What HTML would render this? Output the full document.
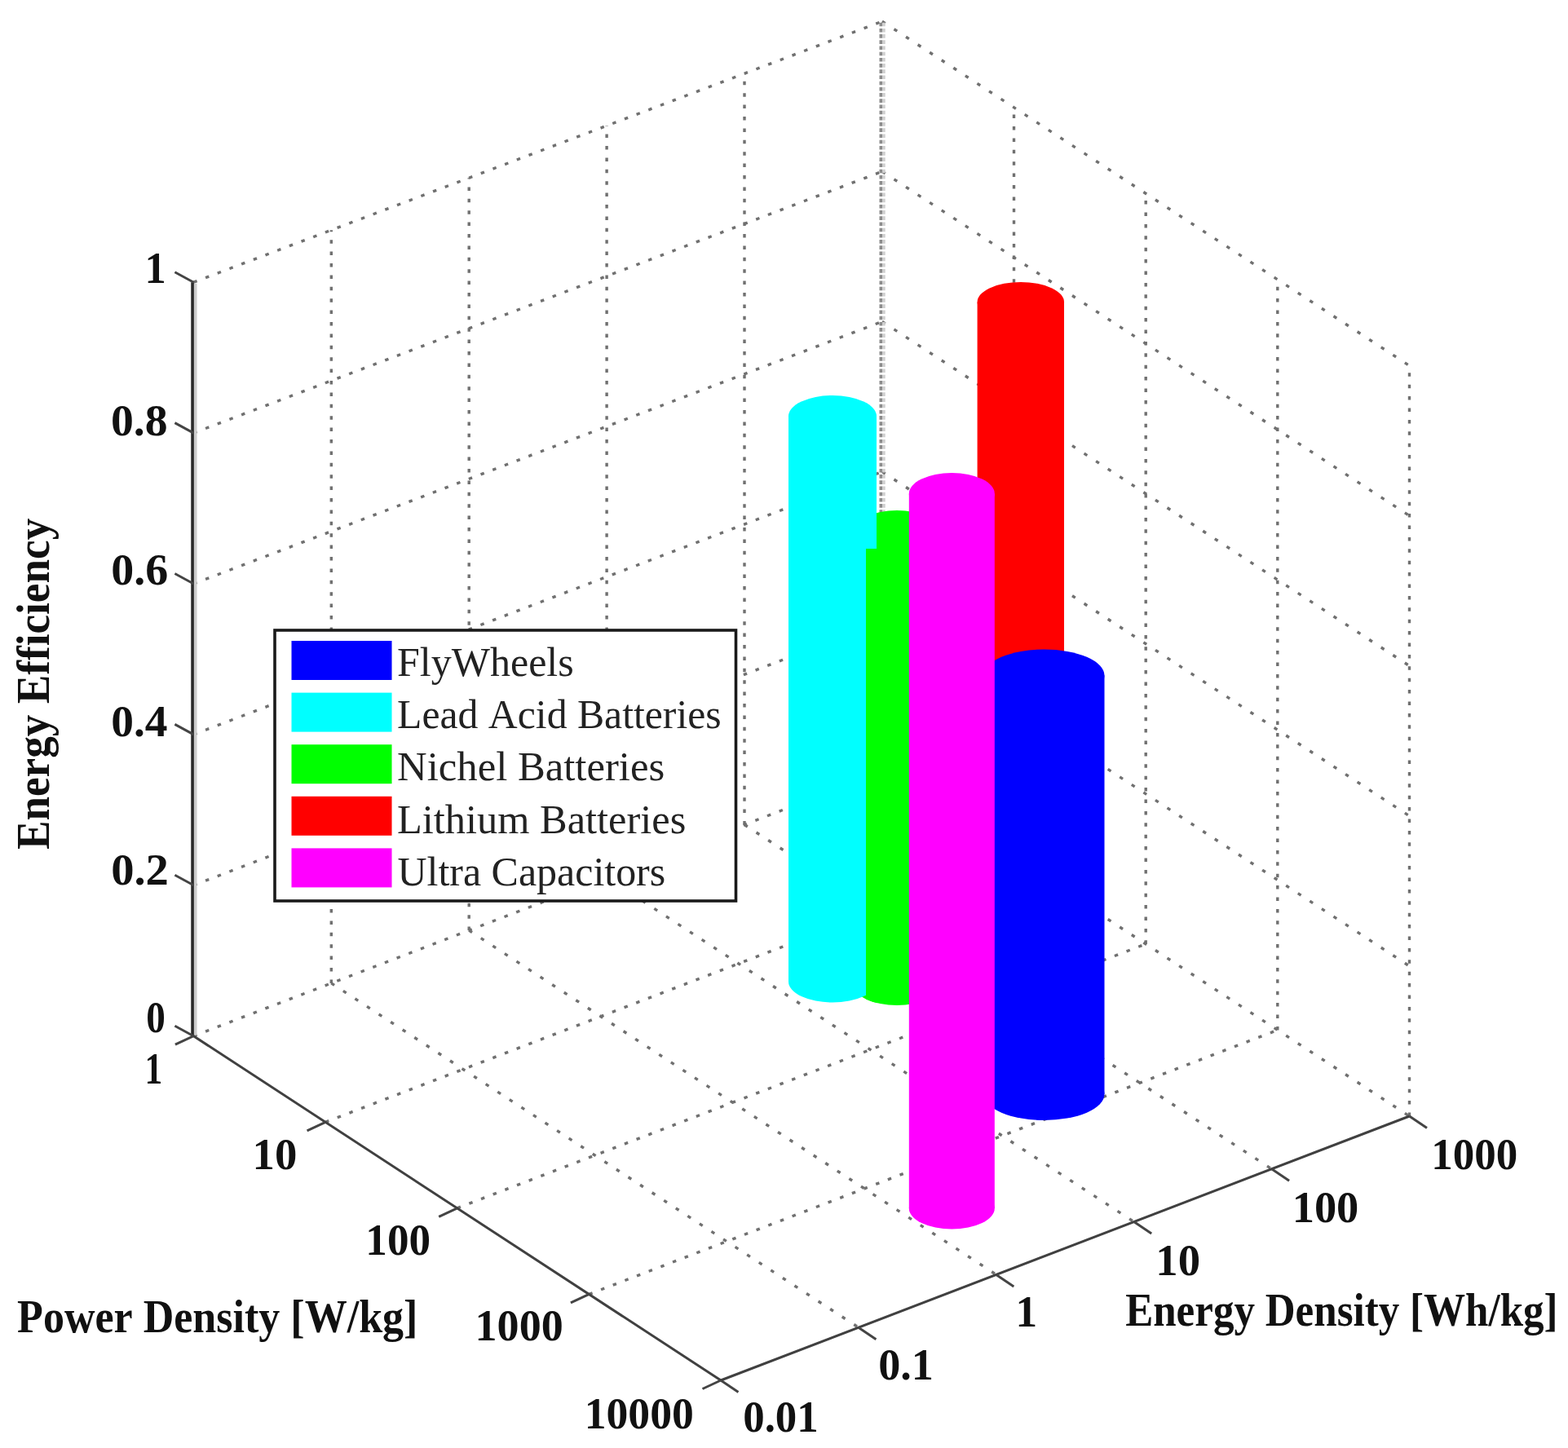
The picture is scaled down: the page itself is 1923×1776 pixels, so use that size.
<!DOCTYPE html><html><head><meta charset="utf-8"><title>Energy storage comparison</title><style>
html,body{margin:0;padding:0;background:#fff;overflow:hidden}
svg{display:block}
text{font-family:"Liberation Serif",serif;fill:#111;font-kerning:none;font-variant-ligatures:none}
.lg text{fill:#222}
line{stroke-linecap:butt}
.gh,.gv,.gd{stroke:#707070;stroke-width:3.4}
.gh{stroke-dasharray:4.5 11.2}
.gd{stroke-dasharray:4.5 12.9}
.gv{stroke-dasharray:4.5 9.9}
.bk1{stroke:#8c8c8c;stroke-width:3.6;stroke-dasharray:4.6 2.6}
.bk2{stroke:#cfcfcf;stroke-width:3.6;stroke-dasharray:4.6 2.6}
.zax{stroke:#2a2a2a;stroke-width:3.7}
.zax2{stroke:#cccccc;stroke-width:3.6}
.ax{stroke:#404040;stroke-width:3}
.tk{stroke:#444;stroke-width:3}
</style></head><body><svg width="1923" height="1776" viewBox="0 0 1923 1776">
<rect width="100%" height="100%" fill="#fff"/>
<g><line class="gh" x1="237.4" y1="1270.7" x2="1081.9" y2="946.7"/><line class="gh" x1="237.4" y1="1085.8" x2="1081.9" y2="762.6"/><line class="gh" x1="237.4" y1="900.9" x2="1081.9" y2="578.5"/><line class="gh" x1="237.4" y1="716.0" x2="1081.9" y2="394.4"/><line class="gh" x1="237.4" y1="531.1" x2="1081.9" y2="210.3"/><line class="gh" x1="237.4" y1="346.2" x2="1081.9" y2="26.2"/><line class="gv" x1="406.3" y1="1205.9" x2="406.3" y2="282.2"/><line class="gv" x1="575.2" y1="1141.1" x2="575.2" y2="218.2"/><line class="gv" x1="744.1" y1="1076.3" x2="744.1" y2="154.2"/><line class="gv" x1="913.0" y1="1011.5" x2="913.0" y2="90.2"/><line class="gd" x1="1081.9" y1="946.7" x2="1728.5" y2="1369.0"/><line class="gd" x1="1081.9" y1="762.6" x2="1728.5" y2="1184.9"/><line class="gd" x1="1081.9" y1="578.5" x2="1728.5" y2="1000.8"/><line class="gd" x1="1081.9" y1="394.4" x2="1728.5" y2="816.7"/><line class="gd" x1="1081.9" y1="210.3" x2="1728.5" y2="632.6"/><line class="gd" x1="1081.9" y1="26.2" x2="1728.5" y2="448.5"/><line class="bk1" x1="1080.3" y1="946.7" x2="1080.3" y2="26.2"/><line class="bk2" x1="1083.9" y1="946.7" x2="1083.9" y2="26.2"/><line class="gv" x1="1243.5" y1="1052.3" x2="1243.5" y2="131.8"/><line class="gv" x1="1405.2" y1="1157.8" x2="1405.2" y2="237.3"/><line class="gv" x1="1566.8" y1="1263.4" x2="1566.8" y2="342.9"/><line class="gv" x1="1728.5" y1="1369.0" x2="1728.5" y2="448.5"/><line class="gd" x1="406.3" y1="1205.9" x2="1052.9" y2="1628.2"/><line class="gd" x1="575.2" y1="1141.1" x2="1221.8" y2="1563.4"/><line class="gd" x1="744.1" y1="1076.3" x2="1390.7" y2="1498.6"/><line class="gd" x1="913.0" y1="1011.5" x2="1559.6" y2="1433.8"/><line class="gh" x1="399.1" y1="1376.3" x2="1243.5" y2="1052.3"/><line class="gh" x1="560.7" y1="1481.8" x2="1405.2" y2="1157.8"/><line class="gh" x1="722.4" y1="1587.4" x2="1566.8" y2="1263.4"/></g>
<g><line class="zax" x1="236.1" y1="346.2" x2="236.1" y2="1271.7"/><line class="zax2" x1="239.7" y1="347.7" x2="239.7" y2="1269.7"/><line class="ax" x1="237.4" y1="1270.7" x2="884.0" y2="1693.0"/><line class="ax" x1="884.0" y1="1693.0" x2="1728.5" y2="1369.0"/><line class="tk" x1="237.4" y1="1270.7" x2="214.4" y2="1258.2"/><line class="tk" x1="237.4" y1="1085.8" x2="214.4" y2="1073.3"/><line class="tk" x1="237.4" y1="900.9" x2="214.4" y2="888.4"/><line class="tk" x1="237.4" y1="716.0" x2="214.4" y2="703.5"/><line class="tk" x1="237.4" y1="531.1" x2="214.4" y2="518.6"/><line class="tk" x1="237.4" y1="346.2" x2="214.4" y2="333.7"/><line class="tk" x1="237.4" y1="1270.7" x2="214.9" y2="1281.2"/><line class="tk" x1="399.1" y1="1376.3" x2="376.6" y2="1386.8"/><line class="tk" x1="560.7" y1="1481.8" x2="538.2" y2="1492.3"/><line class="tk" x1="722.4" y1="1587.4" x2="699.9" y2="1597.9"/><line class="tk" x1="884.0" y1="1693.0" x2="861.5" y2="1703.5"/><line class="tk" x1="884.0" y1="1693.0" x2="905.5" y2="1707.5"/><line class="tk" x1="1052.9" y1="1628.2" x2="1074.4" y2="1642.7"/><line class="tk" x1="1221.8" y1="1563.4" x2="1243.3" y2="1577.9"/><line class="tk" x1="1390.7" y1="1498.6" x2="1412.2" y2="1513.1"/><line class="tk" x1="1559.6" y1="1433.8" x2="1581.1" y2="1448.3"/><line class="tk" x1="1728.5" y1="1369.0" x2="1750.0" y2="1383.5"/></g>
<g class="lbl"><text transform="translate(177.50,346.50) scale(0.9531,1)" font-size="55" font-weight="bold">1</text><text transform="translate(135.98,533.60) scale(1.0134,1)" font-size="55" font-weight="bold">0.8</text><text transform="translate(136.17,716.70) scale(1.0178,1)" font-size="55" font-weight="bold">0.6</text><text transform="translate(136.19,902.50) scale(1.0086,1)" font-size="55" font-weight="bold">0.4</text><text transform="translate(136.14,1084.70) scale(1.0297,1)" font-size="55" font-weight="bold">0.2</text><text transform="translate(179.20,1265.50) scale(0.8580,1)" font-size="55" font-weight="bold">0</text><text transform="translate(177.52,1329.00) scale(0.7902,1)" font-size="55" font-weight="bold">1</text><text transform="translate(309.51,1434.20) scale(0.9959,1)" font-size="55" font-weight="bold">10</text><text transform="translate(448.35,1539.00) scale(0.9658,1)" font-size="55" font-weight="bold">100</text><text transform="translate(582.57,1643.80) scale(0.9836,1)" font-size="55" font-weight="bold">1000</text><text transform="translate(716.70,1752.10) scale(0.9756,1)" font-size="55" font-weight="bold">10000</text><text transform="translate(911.19,1755.80) scale(0.9616,1)" font-size="55" font-weight="bold">0.01</text><text transform="translate(1077.14,1692.20) scale(0.9858,1)" font-size="55" font-weight="bold">0.1</text><text transform="translate(1245.44,1626.90) scale(0.9679,1)" font-size="55" font-weight="bold">1</text><text transform="translate(1417.31,1563.70) scale(0.9959,1)" font-size="55" font-weight="bold">10</text><text transform="translate(1584.64,1499.30) scale(0.9908,1)" font-size="55" font-weight="bold">100</text><text transform="translate(1755.36,1434.00) scale(0.9633,1)" font-size="55" font-weight="bold">1000</text><text transform="translate(21.11,1634.20) scale(0.9131,1)" font-size="57" font-weight="bold">Power Density [W/kg]</text><text transform="translate(1380.13,1625.80) scale(0.8958,1)" font-size="57" font-weight="bold">Energy Density [Wh/kg]</text><g transform="translate(60.2,1041.2) rotate(-90)"><text transform="translate(-0.91,0.00) scale(0.9339,1)" font-size="57" font-weight="bold">Energy Efficiency</text></g></g>
<g><g fill="#ff0000"><ellipse cx="1251.8" cy="370.5" rx="53.2" ry="24.5" transform="rotate(0 1251.8 370.5)"/><rect x="1198.6" y="370.5" width="106.4" height="729.5"/><ellipse cx="1251.8" cy="1100.0" rx="53.2" ry="24.5" transform="rotate(0 1251.8 1100.0)"/></g><g fill="#0000ff"><ellipse cx="1280.5" cy="828.5" rx="74.0" ry="32.0" transform="rotate(0 1280.5 828.5)"/><rect x="1206.5" y="828.5" width="148.0" height="513.5"/><ellipse cx="1280.5" cy="1342.0" rx="74.0" ry="32.0" transform="rotate(0 1280.5 1342.0)"/></g><g fill="#00ff00"><ellipse cx="1100.0" cy="651.0" rx="53.0" ry="25.0" transform="rotate(0 1100.0 651.0)"/><rect x="1047.0" y="651.0" width="106.0" height="557.0"/><ellipse cx="1100.0" cy="1208.0" rx="53.0" ry="25.0" transform="rotate(0 1100.0 1208.0)"/></g><g fill="#00ffff"><ellipse cx="1021.0" cy="510.5" rx="54.0" ry="25.5" transform="rotate(0 1021.0 510.5)"/><rect x="967.0" y="510.5" width="108.0" height="693.5"/><ellipse cx="1021.0" cy="1204.0" rx="54.0" ry="25.5" transform="rotate(0 1021.0 1204.0)"/></g><clipPath id="gclip"><rect x="1062" y="673" width="14" height="600"/></clipPath><g clip-path="url(#gclip)"><g fill="#00ff00"><ellipse cx="1100.0" cy="651.0" rx="53.0" ry="25.0" transform="rotate(0 1100.0 651.0)"/><rect x="1047.0" y="651.0" width="106.0" height="557.0"/><ellipse cx="1100.0" cy="1208.0" rx="53.0" ry="25.0" transform="rotate(0 1100.0 1208.0)"/></g></g><g fill="#ff00ff"><ellipse cx="1167.3" cy="605.5" rx="52.5" ry="25.5" transform="rotate(0 1167.3 605.5)"/><rect x="1114.8" y="605.5" width="105.0" height="876.5"/><ellipse cx="1167.3" cy="1482.0" rx="52.5" ry="25.5" transform="rotate(0 1167.3 1482.0)"/></g></g>
<g class="lg"><rect x="337" y="773" width="565.5" height="332" fill="#fff" stroke="#1a1a1a" stroke-width="3.6"/><rect x="357.5" y="786.0" width="123" height="48" fill="#0000ff"/><text transform="translate(487.06,828.60) scale(0.9805,1)" font-size="51" font-weight="normal">FlyWheels</text><rect x="357.5" y="849.6" width="123" height="48" fill="#00ffff"/><text transform="translate(487.07,892.95) scale(0.9750,1)" font-size="51" font-weight="normal">Lead Acid Batteries</text><rect x="357.5" y="913.2" width="123" height="48" fill="#00ff00"/><text transform="translate(487.04,957.30) scale(0.9947,1)" font-size="51" font-weight="normal">Nichel Batteries</text><rect x="357.5" y="976.8" width="123" height="48" fill="#ff0000"/><text transform="translate(487.05,1021.65) scale(0.9886,1)" font-size="51" font-weight="normal">Lithium Batteries</text><rect x="357.5" y="1040.4" width="123" height="48" fill="#ff00ff"/><text transform="translate(487.45,1086.00) scale(0.9798,1)" font-size="51" font-weight="normal">Ultra Capacitors</text></g>
</svg></body></html>
